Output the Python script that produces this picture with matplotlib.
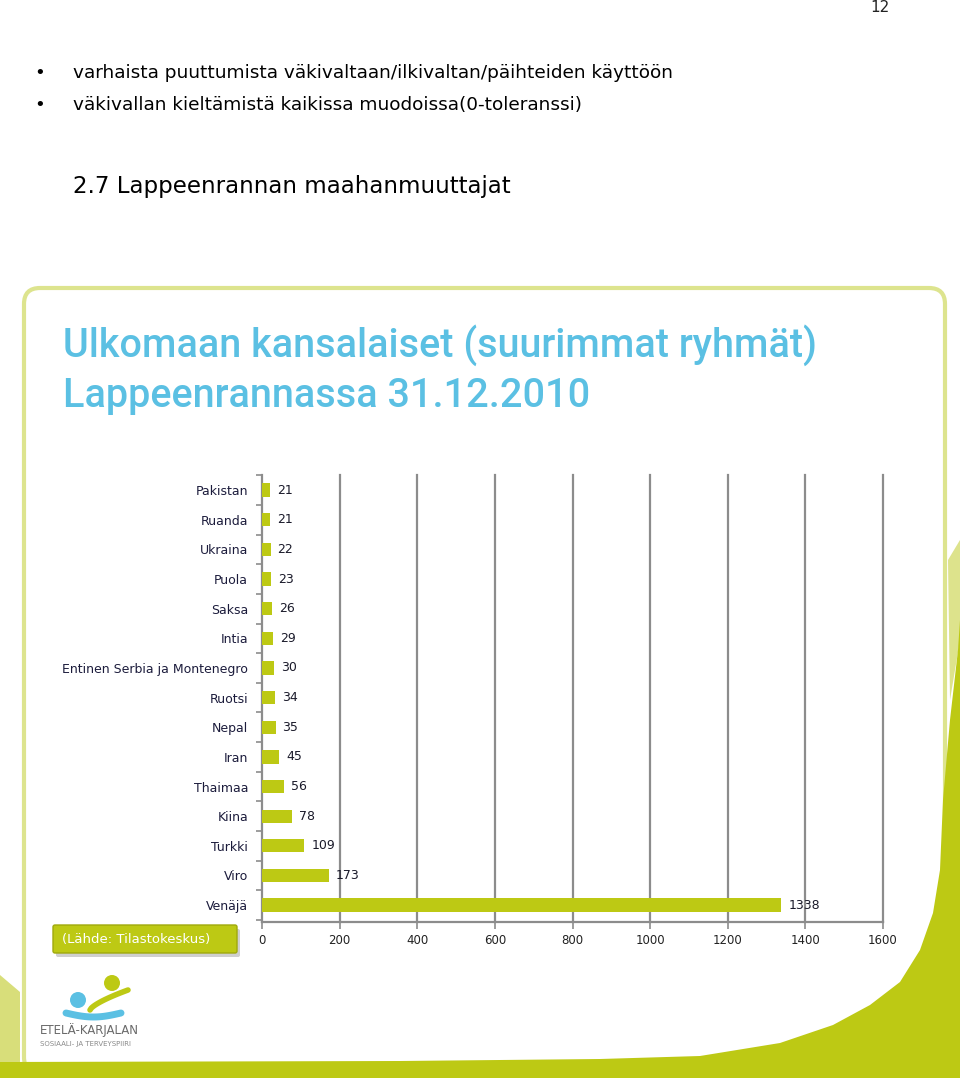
import matplotlib.pyplot as plt
import numpy as np
from matplotlib.patches import FancyBboxPatch, Polygon, Circle

# Data (ulkomaan kansalaiset Lappeenrannassa 31.12.2010)
maat = ['Pakistan', 'Ruanda', 'Ukraina', 'Puola', 'Saksa', 'Intia',
        'Entinen Serbia ja Montenegro', 'Ruotsi', 'Nepal', 'Iran',
        'Thaimaa', 'Kiina', 'Turkki', 'Viro', 'Venäjä']
maara = [21, 21, 22, 23, 26, 29, 30, 34, 35, 45, 56, 78, 109, 173, 1338]
x_ticks = [0, 200, 400, 600, 800, 1000, 1200, 1400, 1600]

W, H = 960, 1087
VIHREA = '#BDC914'
SININEN = '#5BC0E3'

fig = plt.figure(figsize=(W / 100, H / 100), dpi=100)

# Tausta-akseli pikselikoordinaateilla
bg = fig.add_axes([0, 0, 1, 1])
bg.set_xlim(0, W)
bg.set_ylim(H, 0)
bg.axis('off')

# Sivun teksti
bg.text(880, 8, '12', fontsize=11, ha='center', va='center', color='#222')
for yy, txt in [(73, 'varhaista puuttumista väkivaltaan/ilkivaltan/päihteiden käyttöön'),
                (105, 'väkivallan kieltämistä kaikissa muodoissa(0-toleranssi)')]:
    bg.text(40, yy, '•', fontsize=13, ha='center', va='center', color='black')
    bg.text(73, yy, txt, fontsize=13.3, ha='left', va='center', color='black')
bg.text(73, 187, '2.7 Lappeenrannan maahanmuuttajat', fontsize=16.5,
        ha='left', va='center', color='black')

# Dian kehys
bg.add_patch(FancyBboxPatch((24, 288), 921, 785,
                            boxstyle='round,pad=0,rounding_size=16',
                            facecolor='white', edgecolor='#DDE48E', lw=3, zorder=1))

# Vihreä kaari oikeassa alakulmassa
bg.add_patch(Polygon([(948, 560), (960, 540), (960, 640), (950, 700)], closed=True,
                     facecolor='#DDE38C', edgecolor='none', zorder=2))
kaari = [(0, 1062), (400, 1061), (600, 1059), (700, 1056), (780, 1043),
         (833, 1025), (870, 1005), (900, 982), (920, 950), (933, 913),
         (940, 870), (943, 800), (950, 720), (958, 650), (960, 620),
         (960, 1078), (0, 1078)]
bg.add_patch(Polygon(kaari, closed=True, facecolor=VIHREA, edgecolor='none', zorder=2))
bg.add_patch(Polygon([(0, 975), (20, 992), (20, 1062), (0, 1062)], closed=True,
                     facecolor='#D8DE7A', edgecolor='none', zorder=2))

# Dian otsikko, sovitetaan leveyteen 750 px
otsikot = []
for yy, txt in [(345, 'Ulkomaan kansalaiset (suurimmat ryhmät)'),
                (396, 'Lappeenrannassa 31.12.2010')]:
    otsikot.append(bg.text(63, yy, txt, fontsize=30, family='Roboto', fontweight='medium',
                           color=SININEN, ha='left', va='center', zorder=3))
renderer = fig.canvas.get_renderer()
leveys = otsikot[0].get_window_extent(renderer).width
for o in otsikot:
    o.set_fontsize(30 * 752 / leveys)

# Lähde-laatikko
bg.add_patch(FancyBboxPatch((56, 929), 184, 28, boxstyle='round,pad=0,rounding_size=2',
                            facecolor='#cfcfcf', edgecolor='none', zorder=3))
bg.add_patch(FancyBboxPatch((53, 925), 184, 28, boxstyle='round,pad=0,rounding_size=2',
                            facecolor=VIHREA, edgecolor='#9fa90c', lw=1, zorder=4))
bg.text(62, 939, '(Lähde: Tilastokeskus)', fontsize=9.5, color='white',
        ha='left', va='center', zorder=5)

# Logo
bg.add_patch(Circle((78, 1000), 8, facecolor=SININEN, edgecolor='none', zorder=3))
bg.add_patch(Circle((112, 983), 8, facecolor=VIHREA, edgecolor='none', zorder=3))
t = np.linspace(0, 1, 30)
bg.plot(66 + 55 * t, 1013 + 4 * np.sin(np.pi * t), color=SININEN, lw=5,
        solid_capstyle='round', zorder=3)
bg.plot(90 + 38 * t, 1010 - 20 * t ** 0.7, color=VIHREA, lw=4,
        solid_capstyle='round', zorder=3)
bg.text(40, 1030, 'ETELÄ-KARJALAN', fontsize=8.5, color='#6a6a6a',
        ha='left', va='center', zorder=3)
bg.text(40, 1044, 'SOSIAALI- JA TERVEYSPIIRI', fontsize=5, color='#8a8a8a',
        ha='left', va='center', zorder=3)

# Pylväskaavio
ax = fig.add_axes([262 / W, 1 - 922 / H, 621 / W, 447 / H], zorder=5)
ax.patch.set_alpha(0)
y = np.arange(len(maat))
ax.barh(y, maara, height=0.45, color=VIHREA, zorder=3)
ax.set_xlim(0, 1600)
ax.set_ylim(14.57, -0.51)

for xv in x_ticks[1:]:
    ax.axvline(xv, color='#8c8c8c', lw=1.6, zorder=1, clip_on=False)

ax.set_yticks(y, labels=maat)
ax.set_yticks(np.arange(-0.5, len(maat), 1.0), minor=True)
ax.tick_params(axis='y', which='major', length=0, pad=10, labelsize=9,
               labelcolor='#1c1c3c')
ax.tick_params(axis='y', which='minor', length=4, width=1.2, color='#8c8c8c')
ax.set_xticks(x_ticks, labels=[str(v) for v in x_ticks])
ax.tick_params(axis='x', length=5, width=1.2, color='#8c8c8c', labelsize=8.5,
               pad=4, labelcolor='#222')

for s in ['top', 'right']:
    ax.spines[s].set_visible(False)
for s in ['left', 'bottom']:
    ax.spines[s].set_color('#8c8c8c')
    ax.spines[s].set_linewidth(1.6)

for yi, v in zip(y, maara):
    ax.annotate(str(v), (v, yi), xytext=(5, 0), textcoords='offset points',
                ha='left', va='center', fontsize=9, color='#1a1a2a', zorder=4)

fig.savefig('out.png', dpi=100)
